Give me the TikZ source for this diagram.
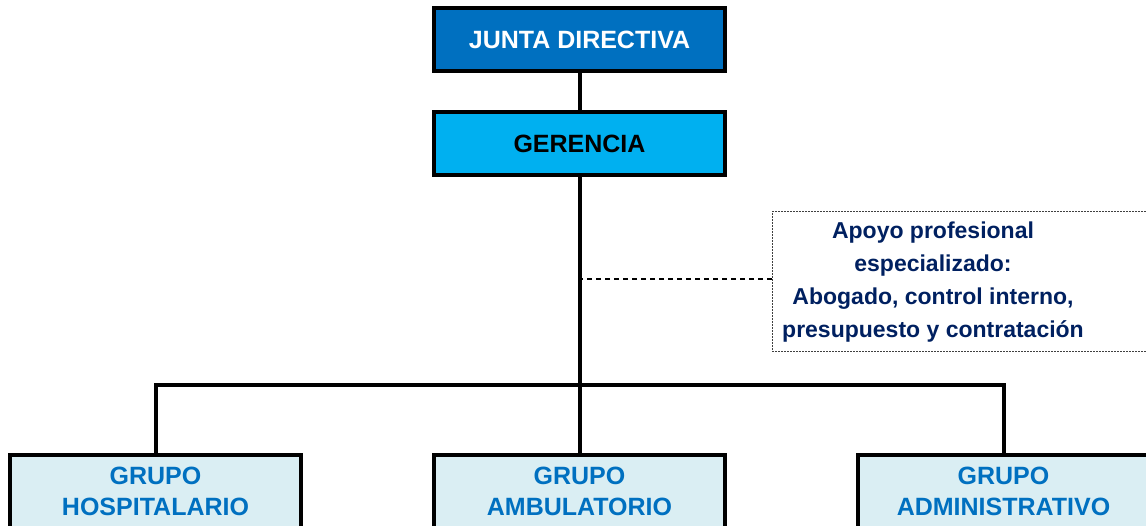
\documentclass[tikz,border=0pt]{standalone}
\usepackage{fontspec}
\setmainfont{Liberation Sans}
\usepackage{xcolor}
\usetikzlibrary{positioning}
\definecolor{juntablue}{HTML}{0070C0}
\definecolor{gerenciablue}{HTML}{00B0F0}
\definecolor{grupofill}{HTML}{DAEEF3}
\definecolor{grupotext}{HTML}{0070C0}
\definecolor{apoyonavy}{HTML}{002060}
\tikzset{
    orgbox/.style={rectangle, draw, line width=4pt, outer sep=0pt, minimum width=291pt, minimum height=63pt, font=\fontsize{25}{31}\selectfont\bfseries, align=center},
    junta/.style={orgbox, fill=juntablue, text=white},
    gerencia/.style={orgbox, fill=gerenciablue, text=black},
    grupo/.style={orgbox, fill=grupofill, text=grupotext, minimum height=73pt},
    apoyobox/.style={rectangle, draw=black!75, line width=1pt, dash pattern=on 2pt off 1pt, outer sep=0pt, minimum width=390pt, minimum height=140pt},
    apoyotext/.style={text=apoyonavy, font=\fontsize{23}{33}\selectfont\bfseries, align=center},
    conn/.style={line width=4pt},
    dashconn/.style={line width=2pt, dash pattern=on 5pt off 4pt}
}
\begin{document}
\begin{tikzpicture}[x=1pt, y=1pt, node distance=41pt]
            \clip (0,0) rectangle (1146,-526);
            \node (junta) [junta] at (579.5,-39.5) {JUNTA DIRECTIVA};
            \node (gerencia) [gerencia, below=of junta] {GERENCIA};
            \node (ambulatorio) [grupo, below=280pt of gerencia] {GRUPO\\AMBULATORIO};
            \node (hospitalario) [grupo, left=133pt of ambulatorio] {GRUPO\\HOSPITALARIO};
            \node (administrativo) [grupo, right=133pt of ambulatorio] {GRUPO\\ADMINISTRATIVO};
            \node (apoyo) [apoyobox, anchor=west] at (772,-282) {};
            \node (apoyolbl) [apoyotext] at (933,-282) {Apoyo profesional\\especializado:\\Abogado, control interno,\\presupuesto y contratación};
            
            \draw[conn] (junta) -- (gerencia);
            \draw[conn] (gerencia) -- (ambulatorio);
            \draw[conn] (hospitalario.north) -- ++(0,70) -| (administrativo.north);
            \draw[dashconn] ([yshift=3pt]apoyo.west) -- ([yshift=3pt]apoyo.west -| gerencia.south);
        \end{tikzpicture}
\end{document}
